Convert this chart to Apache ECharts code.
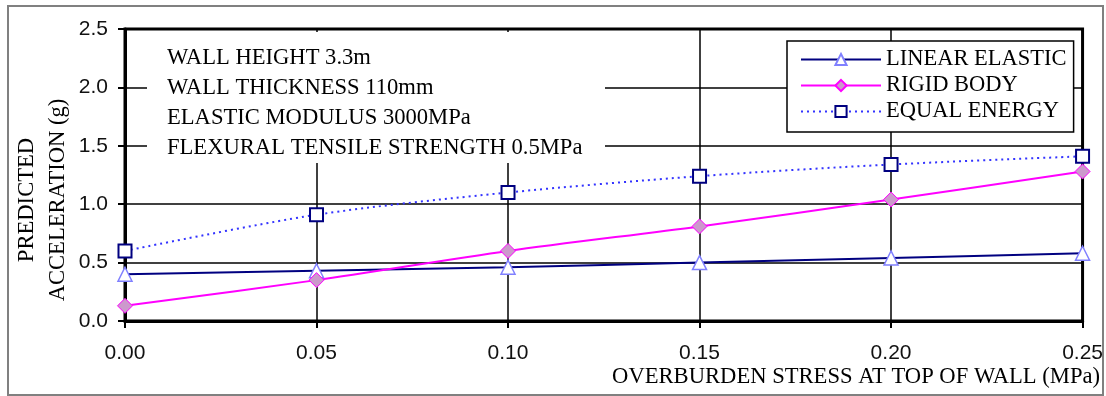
<!DOCTYPE html>
<html>
<head>
<meta charset="utf-8">
<script src="https://cdn.jsdelivr.net/npm/echarts@6/dist/echarts.min.js"></script>
<style>
html,body{margin:0;padding:0;background:#fff;}
#chart{width:1106px;height:396px;}
</style>
</head>
<body>
<div id="chart"></div>
<script>
// Data
var stress = [0.00, 0.05, 0.10, 0.15, 0.20, 0.25];            // MPa
var linearElastic = [0.40, 0.43, 0.46, 0.50, 0.54, 0.58];
var rigidBody     = [0.13, 0.35, 0.60, 0.81, 1.04, 1.28];
var equalEnergy   = [0.60, 0.91, 1.10, 1.24, 1.34, 1.41];
var seriesNames = ['LINEAR ELASTIC', 'RIGID BODY', 'EQUAL ENERGY'];
var notes = ['WALL HEIGHT 3.3m', 'WALL THICKNESS 110mm', 'ELASTIC MODULUS 3000MPa', 'FLEXURAL TENSILE STRENGTH 0.5MPa'];
var xTitle = 'OVERBURDEN STRESS AT TOP OF WALL (MPa)';
var yTitle = ['PREDICTED', 'ACCELERATION (g)'];

function pairs(xs, ys) { return xs.map(function (x, i) { return [x, ys[i]]; }); }

var SERIF = '"Liberation Serif","Times New Roman",serif';
var SANS = '"Liberation Sans",Arial,sans-serif';

var chart = echarts.init(document.getElementById('chart'), null, {renderer: 'canvas'});
var option = {
  animation: false,
  backgroundColor: '#fff',
  grid: {left: 125, right: 22, top: 29, bottom: 75, show: true, borderColor: '#000', borderWidth: 3, backgroundColor: 'transparent'},
  xAxis: {
    type: 'value', min: 0, max: 0.25, interval: 0.05,
    axisLine: {show: true, lineStyle: {color: '#000', width: 3}},
    axisTick: {show: true, length: 7, lineStyle: {color: '#000', width: 2}},
    splitLine: {show: true, lineStyle: {color: '#000', width: 1.5}},
    axisLabel: {margin: 22, color: '#111', fontFamily: SANS, fontSize: 21, formatter: function (v) { return v.toFixed(2); }}
  },
  yAxis: {
    type: 'value', min: 0, max: 2.5, interval: 0.5,
    axisLine: {show: true, lineStyle: {color: '#000', width: 3}},
    axisTick: {show: true, length: 7, lineStyle: {color: '#000', width: 2}},
    splitLine: {show: true, lineStyle: {color: '#000', width: 1.5}},
    axisLabel: {margin: 17, color: '#111', fontFamily: SANS, fontSize: 21, formatter: function (v) { return v.toFixed(1); }}
  },
  legend: {
    orient: 'vertical', left: 787, top: 41,
    backgroundColor: '#fff', borderColor: '#000', borderWidth: 1.5,
    padding: [7, 7, 9, 13], itemGap: 3, itemWidth: 80, itemHeight: 14,
    textStyle: {fontFamily: SERIF, fontSize: 22.5, color: '#000', lineHeight: 22},
    data: seriesNames
  },
  graphic: [
    {type: 'rect', z: 1, shape: {x: 147, y: 32, width: 458, height: 131}, style: {fill: '#fff'}},
    {type: 'text', z: 5, left: 167, top: 43, style: {text: notes.join('\n'), font: '22.6px ' + SERIF, lineHeight: 30, fill: '#000'}},
    {type: 'text', z: 5, x: 43, y: 200, rotation: Math.PI / 2, style: {text: yTitle.join('\n'), font: '22.6px ' + SERIF, lineHeight: 31, fill: '#000', align: 'center', verticalAlign: 'middle'}},
    {type: 'text', z: 5, x: 1100, y: 377, style: {text: xTitle, font: '22.6px ' + SERIF, fill: '#000', align: 'right', verticalAlign: 'middle'}},
    {type: 'rect', z: 10, shape: {x: 8, y: 6, width: 1095, height: 389}, style: {fill: null, stroke: '#808080', lineWidth: 2}}
  ],
  series: [
    {
      name: seriesNames[0], type: 'line', data: pairs(stress, linearElastic), smooth: 0.3, z: 3,
      symbol: 'triangle', symbolSize: 14,
      lineStyle: {color: '#000080', width: 2},
      itemStyle: {color: '#fff', borderColor: '#8080ff', borderWidth: 1.5}
    },
    {
      name: seriesNames[1], type: 'line', data: pairs(stress, rigidBody), smooth: 0.3, z: 3,
      symbol: 'diamond', symbolSize: 15,
      lineStyle: {color: '#ff00ff', width: 2},
      itemStyle: {color: '#cc99cc', borderColor: '#ff00ff', borderWidth: 1}
    },
    {
      name: seriesNames[2], type: 'line', data: pairs(stress, equalEnergy), smooth: 0.3, z: 3,
      symbol: 'rect', symbolSize: 13,
      lineStyle: {color: '#3333ff', width: 2, type: [2, 4]},
      itemStyle: {color: '#fff', borderColor: '#000080', borderWidth: 2}
    }
  ]
};
chart.setOption(option);
</script>
</body>
</html>
